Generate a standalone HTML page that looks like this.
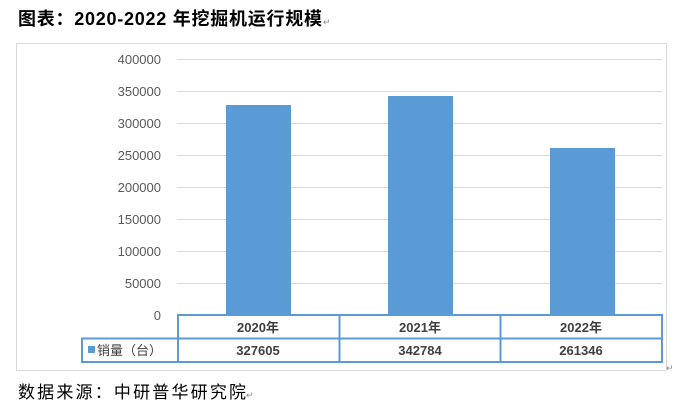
<!DOCTYPE html>
<html><head><meta charset="utf-8"><style>
body{margin:0;width:679px;height:409px;background:#fff;overflow:hidden;font-family:"Liberation Sans","Noto Sans CJK SC",sans-serif}
</style></head><body>
<svg width="679" height="409" xmlns="http://www.w3.org/2000/svg" font-family="Liberation Sans, Noto Sans CJK SC, sans-serif">
<text x="18" y="25" font-size="18" font-weight="bold" fill="#000" textLength="304" lengthAdjust="spacing">图表：2020-2022 年挖掘机运行规模</text>
<text x="323" y="25" font-size="9" fill="#888">↵</text>
<rect x="16.5" y="43.5" width="650" height="327" fill="#fff" stroke="#d9d9d9"/>
<g stroke="#d9d9d9" stroke-width="1">
<line x1="177" x2="662" y1="59.5" y2="59.5"/>
<line x1="177" x2="662" y1="91.5" y2="91.5"/>
<line x1="177" x2="662" y1="123.5" y2="123.5"/>
<line x1="177" x2="662" y1="155.5" y2="155.5"/>
<line x1="177" x2="662" y1="187.5" y2="187.5"/>
<line x1="177" x2="662" y1="219.5" y2="219.5"/>
<line x1="177" x2="662" y1="251.5" y2="251.5"/>
<line x1="177" x2="662" y1="283.5" y2="283.5"/>
</g>
<g font-size="13" fill="#595959" text-anchor="end">
<text x="161" y="64">400000</text><text x="161" y="96">350000</text>
<text x="161" y="128">300000</text><text x="161" y="160">250000</text>
<text x="161" y="192">200000</text><text x="161" y="224">150000</text>
<text x="161" y="256">100000</text><text x="161" y="288">50000</text>
<text x="161" y="320">0</text>
</g>
<g fill="#5b9bd5">
<rect x="226" y="105" width="65" height="210"/>
<rect x="388" y="96" width="65" height="219"/>
<rect x="550" y="148" width="65" height="167"/>
</g>
<g stroke="#5b9bd5" stroke-width="2" fill="none">
<rect x="178" y="315" width="484" height="47"/>
<line x1="82" x2="662" y1="338.5" y2="338.5"/>
<line x1="339.5" x2="339.5" y1="315" y2="362"/>
<line x1="500.5" x2="500.5" y1="315" y2="362"/>
<rect x="82" y="338.5" width="96" height="23.5"/>
</g>
<g font-size="13" font-weight="bold" fill="#404040" text-anchor="middle">
<text x="258" y="332">2020年</text><text x="420" y="332">2021年</text><text x="581" y="332">2022年</text>
<text x="258" y="355">327605</text><text x="420" y="355">342784</text><text x="581" y="355">261346</text>
</g>
<rect x="88" y="346" width="7" height="7" fill="#5b9bd5"/>
<text x="97" y="355" font-size="13" fill="#404040">销量（台）</text>
<text x="666" y="371" font-size="9" fill="#888">↵</text>
<text x="18" y="398" font-size="17" fill="#000" textLength="228" lengthAdjust="spacing">数据来源：中研普华研究院</text>
<text x="246" y="398" font-size="9" fill="#888">↵</text>
</svg>
</body></html>
